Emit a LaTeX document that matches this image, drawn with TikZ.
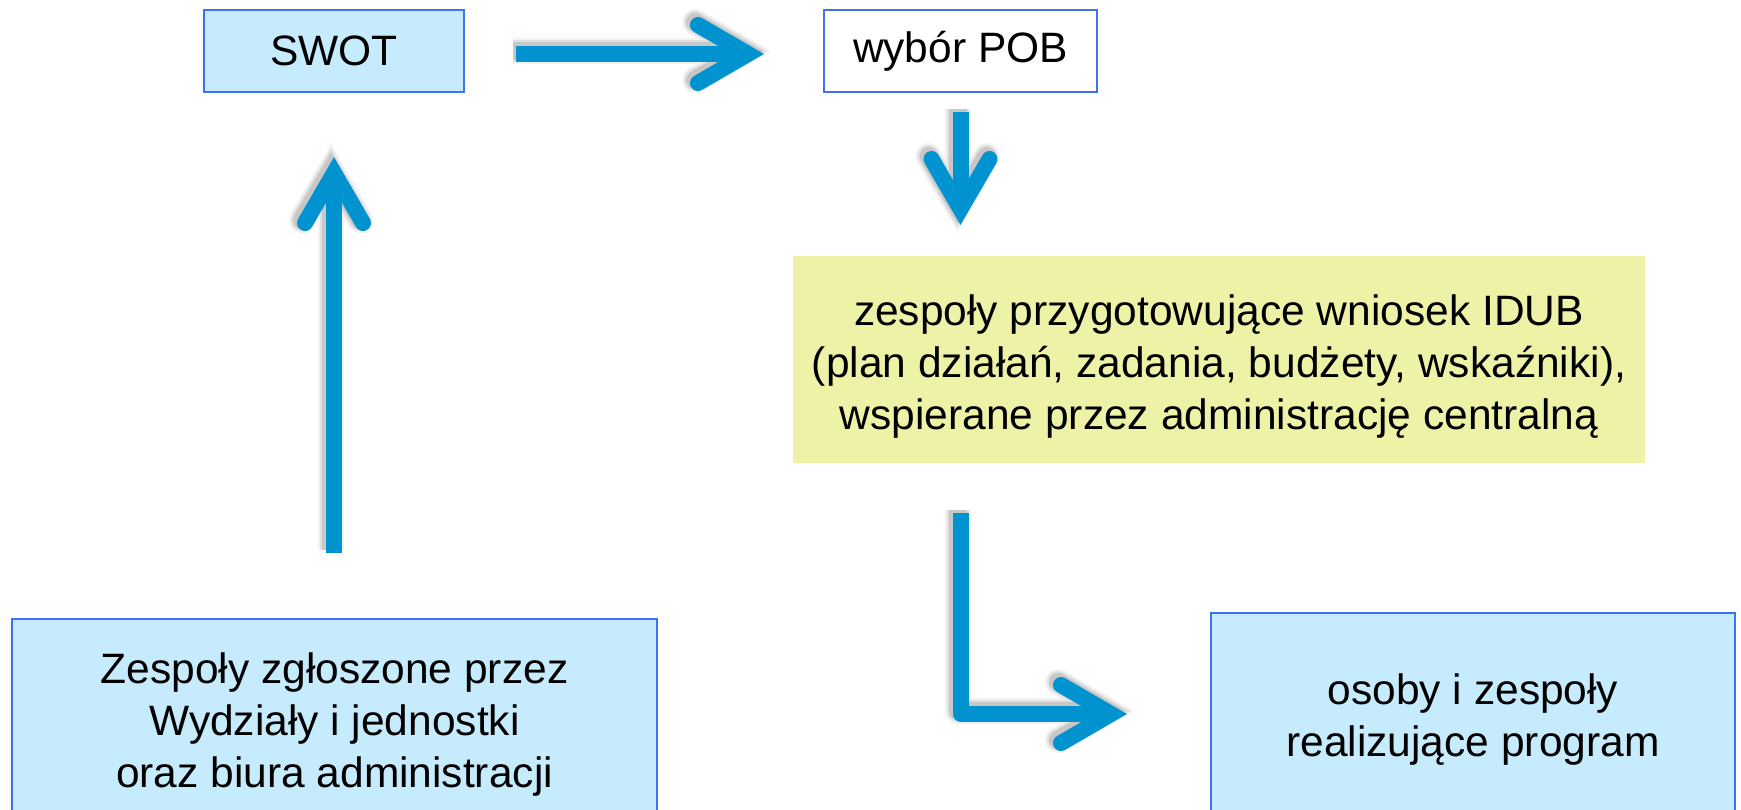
\documentclass[tikz,border=0pt]{standalone}
\usepackage{fontspec}
\setmainfont{Liberation Sans}
\definecolor{arrowblue}{HTML}{0093D0}
\definecolor{boxfill}{HTML}{C5EBFC}
\definecolor{boxline}{HTML}{4070F4}
\definecolor{yellowfill}{HTML}{EEF2A7}
\newcommand\diagfont{\fontsize{42.5}{52}\selectfont}
\newcommand\arrowpaths[1]{%
  \draw[#1] (upS) -- (upV);
  \draw[#1, line cap=round, line join=miter] (upL) -- (upV) -- (upR);
  \draw[#1] (rS) -- (rV);
  \draw[#1, line cap=round, line join=miter] (rU) -- (rV) -- (rD);
  \draw[#1] (dS) -- (dV);
  \draw[#1, line cap=round, line join=miter] (dL) -- (dV) -- (dR);
  \draw[#1, line join=round] (lS) -- (lC) -- (lV);
  \draw[#1, line cap=round, line join=miter] (lU) -- (lV) -- (lD);
}
\begin{document}
\begin{tikzpicture}[x=1pt,y=-1pt,
  box/.style={draw=boxline, line width=2pt, inner sep=0pt},
  bluebox/.style={box, fill=boxfill},
  whitebox/.style={box, fill=white},
  yellowbox/.style={inner sep=0pt, fill=yellowfill},
  label text/.style={inner sep=0pt, align=center, font=\diagfont},
  arrowline/.style={draw=arrowblue, line width=16pt}]
\useasboundingbox (0,0) rectangle (1741,810);
\fill[white] (0,0) rectangle (1741,810);

% boxes
\node[bluebox, minimum width=260pt, minimum height=82pt] (swot) at (334,51) {};
\node[label text] (swottext) at (swot.center) {SWOT};
\node[whitebox, minimum width=273pt, minimum height=82pt] (pob) at (960.5,51) {};
\node[label text] (pobtext) at (pob.center) {wybór POB};
\node[yellowbox, minimum width=852pt, minimum height=207pt] (idub) at (1219,359.5) {};
\node[label text, yshift=-7pt] (idubtext) at (idub.center)
  {zespoły przygotowujące wniosek IDUB\\(plan działań, zadania, budżety, wskaźniki),\\wspierane przez administrację centralną};
\node[bluebox, minimum width=645pt, minimum height=202pt] (zgl) at (334.5,720) {};
\node[label text, yshift=-5pt] (zgltext) at (zgl.center)
  {Zespoły zgłoszone przez\\Wydziały i jednostki\\oraz biura administracji};
\node[bluebox, minimum width=524pt, minimum height=207pt] (real) at (1473,716.5) {};
\node[label text, yshift=-3pt] (realtext) at (real.center)
  {osoby i zespoły\\realizujące program};

% arrow geometry
\coordinate (upS) at (334,553);  \coordinate (upV) at (334,173);
\coordinate (upL) at (305,223);  \coordinate (upR) at (363,223);
\coordinate (rS) at (516,54);    \coordinate (rV) at (748,54);
\coordinate (rU) at (698,25);    \coordinate (rD) at (698,83);
\coordinate (dS) at (960.5,112); \coordinate (dV) at (960.5,209);
\coordinate (dL) at (931.5,159); \coordinate (dR) at (989.5,159);
\coordinate (lS) at (961,513);   \coordinate (lC) at (961,714);
\coordinate (lV) at (1111,714);
\coordinate (lU) at (1061,685);  \coordinate (lD) at (1061,743);

% soft shadows (up-left)
\begin{scope}[transform canvas={shift={(-3pt,3pt)}}]
  \arrowpaths{draw=black!5, line width=26pt}
  \arrowpaths{draw=black!12, line width=22pt}
  \arrowpaths{draw=black!22, line width=18pt}
\end{scope}
% arrows
\arrowpaths{arrowline}
\end{tikzpicture}
\end{document}
